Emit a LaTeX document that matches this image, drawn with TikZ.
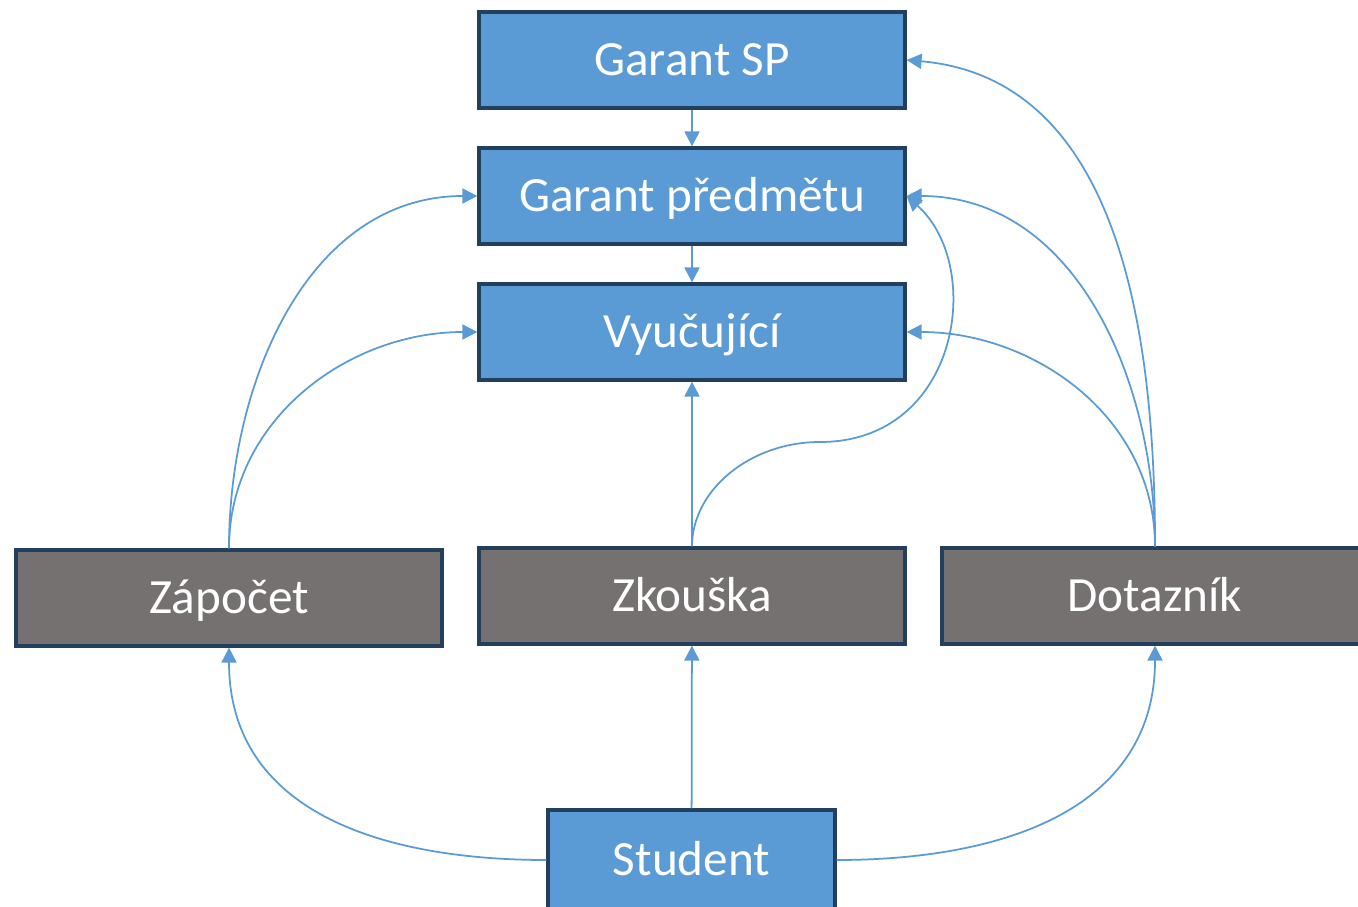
\documentclass[tikz,border=0pt]{standalone}
\usepackage{fontspec}
\setmainfont{Carlito}
\usetikzlibrary{arrows.meta}

\definecolor{boxblue}{HTML}{5B9BD5}
\definecolor{boxgrey}{HTML}{767171}
\definecolor{boxline}{HTML}{223F5E}
\definecolor{linkblue}{HTML}{5B9BD5}

\begin{document}
\begin{tikzpicture}[
	bluebox/.style={draw=boxline, line width=0.9pt, fill=boxblue, text=white,
		minimum width=4.26cm, minimum height=0.96cm, inner sep=0pt,
		text height=9pt, text depth=0pt,
		font=\fontsize{14}{17}\selectfont},
	greybox/.style={bluebox, fill=boxgrey},
	link/.style={draw=linkblue, line width=0.5pt, -{Triangle[length=1.5mm,width=1.5mm]}}
]

	\useasboundingbox (0,0) rectangle (13.58,9.06);

	% top column
	\node[bluebox] (gsp) at (6.92, 8.46) {Garant SP};
	\node[bluebox] (gpred) at (6.92, 7.10) {Garant předmětu};
	\node[bluebox] (vyuc) at (6.92, 5.74) {Vyučující};

	% middle row
	\node[greybox] (zap) at (2.29, 3.08) {Zápočet};
	\node[greybox] (zk) at (6.92, 3.10) {Zkouška};
	\node[greybox] (dot) at (11.55, 3.10) {Dotazník};

	% bottom
	\node[bluebox, minimum width=2.87cm, minimum height=1.0cm] (stud) at (6.915, 0.46) {Student};

	% straight links
	\draw[link] (gsp) -- (gpred);
	\draw[link] (gpred) -- (vyuc);
	\draw[link] (zk) -- (vyuc);
	\draw[link] (stud) -- (zk);

	% student to the sides
	\draw[link] (stud.west) to[out=180, in=-90, looseness=1.1] (zap.south);
	\draw[link] (stud.east) to[out=0, in=-90, looseness=1.1] (dot.south);

	% from Zapocet
	\draw[link] (zap.north) to[out=90, in=180] (gpred.west);
	\draw[link] (zap.north) to[out=90, in=180] (vyuc.west);

	% from Zkouska
	\coordinate (bend) at (8.20, 4.64);
	\draw[link] (zk.north) .. controls (6.92, 4.16) and (7.50, 4.64) .. (bend)
		.. controls (9.60, 4.64) and (9.85, 6.40) .. (gpred.east);

	% from Dotaznik
	\draw[link] (dot.north) to[out=90, in=-5] (gsp.east);
	\draw[link] (dot.north) to[out=90, in=0] (gpred.east);
	\draw[link] (dot.north) to[out=90, in=0] (vyuc.east);

\end{tikzpicture}
\end{document}
